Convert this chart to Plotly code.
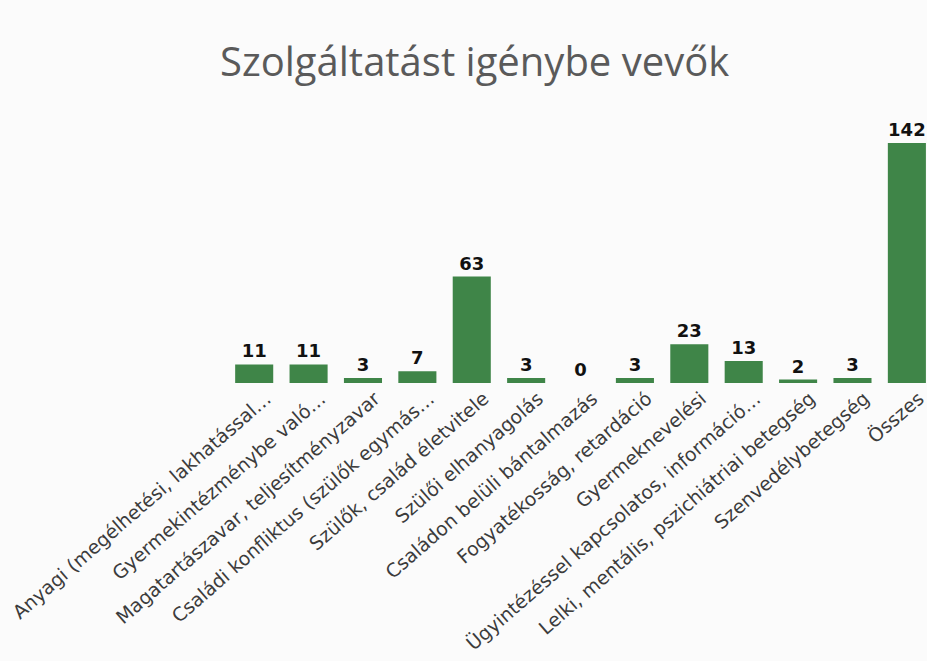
import plotly.graph_objects as go

categories = [
    "Anyagi (megélhetési, lakhatással…",
    "Gyermekintézménybe való…",
    "Magatartászavar, teljesítményzavar",
    "Családi konfliktus (szülők egymás…",
    "Szülők, család életvitele",
    "Szülői elhanyagolás",
    "Családon belüli bántalmazás",
    "Fogyatékosság, retardáció",
    "Gyermeknevelési",
    "Ügyintézéssel kapcsolatos, információ…",
    "Lelki, mentális, pszichiátriai betegség",
    "Szenvedélybetegség",
    "Összes",
]
values = [11, 11, 3, 7, 63, 3, 0, 3, 23, 13, 2, 3, 142]
title_text = "Szolgáltatást igénybe vevők"

fig = go.Figure(
    go.Bar(
        x=categories,
        y=values,
        marker=dict(color="#3f8548", line=dict(width=0)),
        text=[str(v) for v in values],
        textposition="outside",
        textfont=dict(family="DejaVu Sans", size=18, color="#111111", weight="bold"),
        cliponaxis=True,
    )
)

fig.update_layout(
    width=927,
    height=661,
    margin=dict(l=227, r=0, t=100, b=278),
    paper_bgcolor="#fbfbfb",
    plot_bgcolor="rgba(0,0,0,0)",
    bargap=0.3,
    showlegend=False,
    title=dict(
        text=title_text,
        font=dict(family="Open Sans", size=40, color="#5a5a5a"),
        x=0.512,
        xanchor="center",
        y=1 - 62 / 661,
        yanchor="middle",
        yref="container",
        xref="container",
    ),
    xaxis=dict(
        range=[-0.5, 12.37],
        tickangle=-41,
        tickfont=dict(family="DejaVu Sans", size=19, color="#3c3c3c"),
        ticklabelshift=12,
        showline=False,
        showgrid=False,
        zeroline=False,
        ticks="",
        automargin=False,
    ),
    yaxis=dict(
        range=[0, 167.5],
        visible=False,
        showgrid=False,
        zeroline=False,
        automargin=False,
    ),
)

fig.write_html(
    "out.html",
    config={"displayModeBar": False},
    post_script="document.body.style.margin='0';document.body.style.overflow='hidden';",
)
